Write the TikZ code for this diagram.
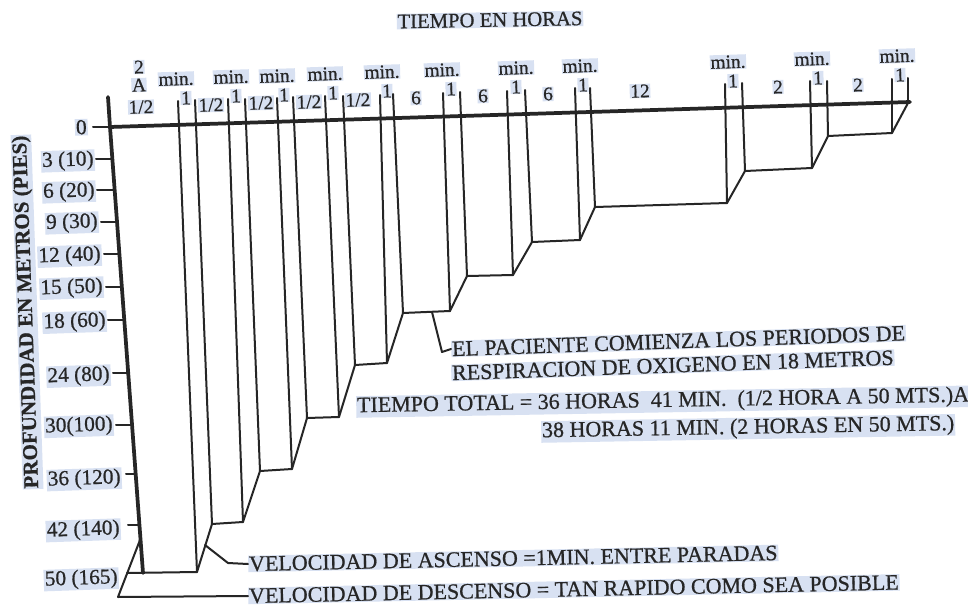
\documentclass[tikz,border=0pt]{standalone}
\usepackage{fontspec}
\setmainfont{Liberation Serif}[FakeBold=0.7]
\definecolor{ink}{RGB}{38,38,38}
\definecolor{tint}{RGB}{216,225,242}
\begin{document}
\begin{tikzpicture}[x=0.75pt,y=-0.75pt,
  ln/.style={line width=1.5pt, draw=ink, line join=round, line cap=round},
  ax/.style={line width=2.8pt, draw=ink, line join=round, line cap=round},
  base/.style={text=ink, fill=tint, inner sep=0.6pt},
  big/.style={base, font=\fontsize{16.5}{19}\selectfont},
  tl/.style={base, font=\fontsize{14.5}{16}\selectfont, rotate=1.8, inner sep=0.5pt},
  dl/.style={base, font=\fontsize{16}{18}\selectfont, rotate=2, anchor=east, inner sep=0.8pt},
]
\fill[white] (0,0) rectangle (968,610);
\useasboundingbox (0,0) rectangle (968,610);

% ---------- texts ----------
\node[big, font=\fontsize{15.5}{18}\selectfont, rotate=1] (title) at (490,20) {TIEMPO EN HORAS};
\node[base, font=\bfseries\fontsize{15.75}{18}\selectfont, rotate=92] (ylab) at (27,312) {PROFUNDIDAD EN METROS (PIES)};

\node[dl] (d0)  at (88,127) {0};
\node[dl] (d3)  at (95,160) {3 (10)};
\node[dl] (d6)  at (96,191) {6 (20)};
\node[dl] (d9)  at (99,222) {9 (30)};
\node[dl] (d12) at (102,255) {12 (40)};
\node[dl] (d15) at (104,287) {15 (50)};
\node[dl] (d18) at (107,321) {18 (60)};
\node[dl] (d24) at (111,375) {24 (80)};
\node[dl] (d30) at (114,425) {30(100)};
\node[dl] (d36) at (122,478) {36 (120)};
\node[dl] (d42) at (121,529) {42 (140)};
\node[dl] (d50) at (119,578) {50 (165)};

% top labels
\node[tl] (t2) at (139,67) {2};
\node[tl] (tA) at (139,85) {A};
\node[tl] (h0) at (141,107) {1/2};
\node[tl] (h1) at (211,105) {1/2};
\node[tl] (h2) at (261,103) {1/2};
\node[tl] (h3) at (309,102) {1/2};
\node[tl] (h4) at (358,100) {1/2};
\node[tl] (h5) at (416,98) {6};
\node[tl] (h6) at (483,96) {6};
\node[tl] (h7) at (548,94) {6};
\node[tl] (h8) at (640,91) {12};
\node[tl] (h9) at (778,87) {2};
\node[tl] (h10) at (858,85) {2};

\node[tl] (m1) at (176,79) {min.};
\node[tl] (m2) at (231,77) {min.};
\node[tl] (m3) at (277,76) {min.};
\node[tl] (m4) at (325,74) {min.};
\node[tl] (m5) at (382,72) {min.};
\node[tl] (m6) at (442,70) {min.};
\node[tl] (m7) at (516,68) {min.};
\node[tl] (m8) at (580,66) {min.};
\node[tl] (m9) at (728,62) {min.};
\node[tl] (m10) at (812,59) {min.};
\node[tl] (m11) at (897,56) {min.};

\node[tl] (o1) at (186,98) {1};
\node[tl] (o2) at (236,96) {1};
\node[tl] (o3) at (284,95) {1};
\node[tl] (o4) at (333,93) {1};
\node[tl] (o5) at (387,91) {1};
\node[tl] (o6) at (451,89) {1};
\node[tl] (o7) at (516,87) {1};
\node[tl] (o8) at (583,85) {1};
\node[tl] (o9) at (733,81) {1};
\node[tl] (o10) at (818,78) {1};
\node[tl] (o11) at (900,75) {1};

% notes
\node[big, rotate=2, anchor=west] (pac1) at (451,349) {EL PACIENTE COMIENZA LOS PERIODOS DE};
\node[big, rotate=2, anchor=west] (pac2) at (451,373) {RESPIRACION DE OXIGENO EN 18 METROS};
\node[big, rotate=1, anchor=west] (tt1) at (356,407) {TIEMPO TOTAL = 36 HORAS\ \ 41 MIN.\ \ (1/2 HORA A 50 MTS.)A};
\node[big, rotate=1, anchor=west] (tt2) at (541,432) {38 HORAS 11 MIN. (2 HORAS EN 50 MTS.)};
\node[big, rotate=1.2, anchor=west] (asc) at (248,564) {VELOCIDAD DE ASCENSO =1MIN. ENTRE PARADAS};
\node[big, rotate=1.2, anchor=west] (desc) at (248,596) {VELOCIDAD DE DESCENSO = TAN RAPIDO COMO SEA POSIBLE};

% ---------- axes ----------
\draw[ax] (110,127) -- (910,102);
\draw[ax] (108,97) -- (110,127) -- (143,573);
\draw[ln] (93,127) -- (110,127);
\foreach \y/\a/\b in {159/96/112, 190/97/115, 222/101/117, 254/104/119, 287/106/122,
                      320/108/124, 373/113/128, 425/116/132, 474/126/136, 525/128/139}
  \draw[ln] (\a,\y) -- (\b,\y);

% ---------- dive profile ----------
\draw[ln] (127,573) -- (197,572) -- (212,524) -- (243,522) -- (260,471) -- (292,469)
  -- (307,418) -- (339,417) -- (355,365) -- (387,363) -- (403,313) -- (450,311)
  -- (467,276) -- (513,275) -- (532,242) -- (580,240) -- (595,207) -- (727,203)
  -- (745,171) -- (812,168) -- (828,136) -- (892,133) -- (908,103);

\foreach \a/\b/\c/\d in {178/101/197/572, 195/100/212/524, 228/99/243/522, 245/99/260/471,
  277/98/292/469, 293/97/307/418, 325/96/339/417, 343/96/355/365, 380/95/387/363,
  393/94/403/313, 443/93/450/311, 460/92/467/276, 507/91/513/275, 525/90/532/242,
  575/88/580/240, 590/88/595/207, 725/84/727/203, 742/83/745/171, 810/81/812/168,
  827/81/828/136, 892/79/892/133, 908/78/908/102}
  \draw[ln] (\a,\b) -- (\c,\d);

% ---------- callouts ----------
\coordinate (p18) at (432,312);
\coordinate (pasc) at (205,545);
\coordinate (pdesc) at (140,540);
\draw[ln] (p18) -- (442,352) -- (pac1.west);
\draw[ln] (pasc) -- (228,563) -- (asc.west);
\draw[ln] (pdesc) -- (118,597) -- (desc.west);
\end{tikzpicture}
\end{document}
